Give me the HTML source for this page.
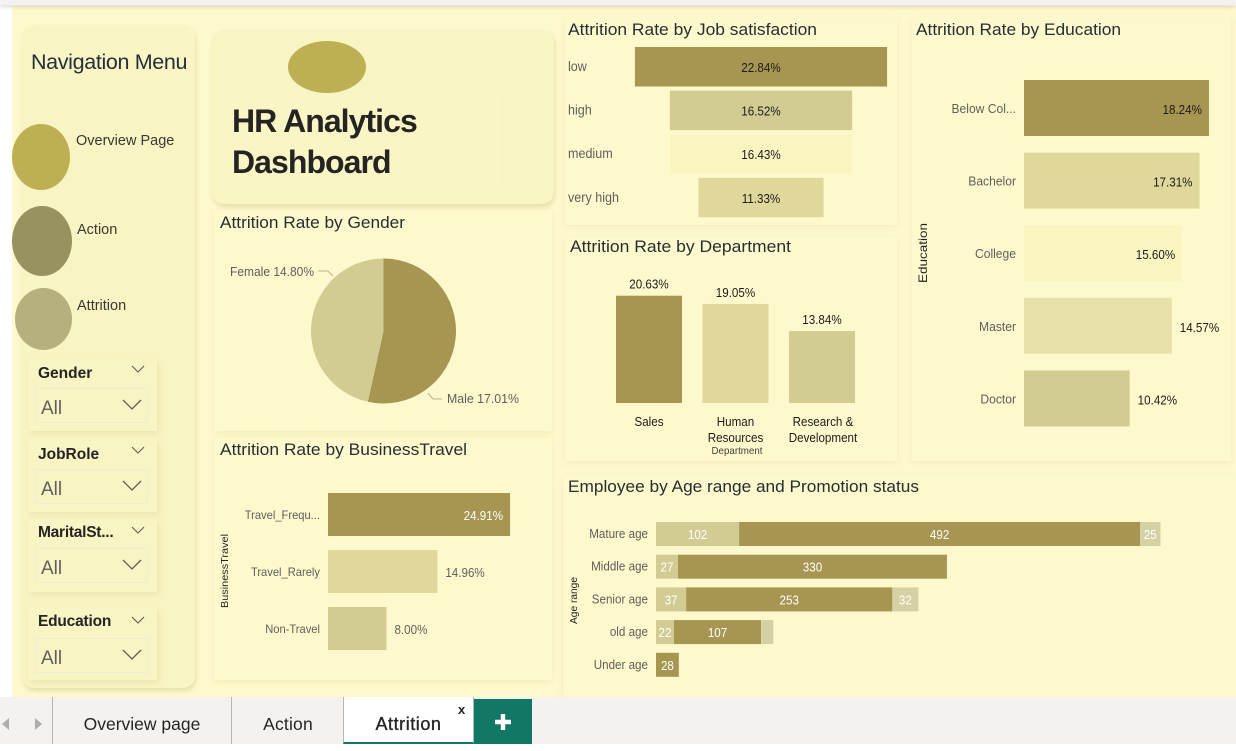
<!DOCTYPE html>
<html lang="en">
<head>
<meta charset="utf-8">
<title>HR Analytics Dashboard - Attrition</title>
<style>
html,body{margin:0;padding:0;width:1236px;height:744px;overflow:hidden;background:#fff;font-family:"Liberation Sans",sans-serif;color:#252423}
.abs{position:absolute}
#top-bar{left:0;top:0;width:1236px;height:5px;background:#f3f2f1;box-shadow:0 2px 4px rgba(0,0,0,.14);z-index:3}
#canvas{left:12px;top:6px;width:1224px;height:691px;background:#fef9cd}
.panel{position:absolute;background:#fef9cd;box-shadow:0 2px 7px rgba(200,190,120,.22)}
.soft{background:#f9f4c3;border-radius:12px;box-shadow:1px 3px 5px rgba(180,170,100,.32)}
.slicer{position:absolute;left:28px;width:129px;background:#f9f4c3;box-shadow:2px 3px 6px rgba(200,190,120,.25)}
.slicer-title{position:absolute;left:10px;top:5px;font-size:15.5px;font-weight:bold;color:#252423;white-space:nowrap}
.slicer-box{position:absolute;left:7px;width:111px;height:33px;border:1px solid #efecd6;background:#f9f4c3;font-size:19px;color:#605e5c}
.slicer-box span{position:absolute;left:5px;top:10px;line-height:20px}
.chev{position:absolute}
.nav-label{position:absolute;font-size:14.5px;color:#3a3830;white-space:nowrap}
#tabs{left:0;top:697px;width:1236px;height:47px;background:#f3f2f1;z-index:3}
.tab{position:absolute;top:0;height:47px;border-left:1px solid #b8b6b4;font-size:17.5px;color:#252423;line-height:54px;text-align:center;box-sizing:border-box}
#charts{position:absolute;left:0;top:0;width:1236px;height:744px;z-index:2;pointer-events:none}
</style>
</head>
<body>
<div class="abs" id="top-bar"></div>
<div class="abs" id="canvas"></div>

<div class="panel soft" style="left:22px;top:25px;width:173px;height:663px"></div>
<div class="abs" style="left:31px;top:50px;font-size:21.5px;letter-spacing:-.35px;color:#252f3a;white-space:nowrap">Navigation Menu</div>

<div class="abs" style="left:12px;top:124px;width:58px;height:66px;border-radius:50%;background:#bcb053"></div>
<div class="nav-label" style="left:76px;top:133px">Overview Page</div>
<div class="abs" style="left:12px;top:206px;width:60px;height:70px;border-radius:50%;background:#989261"></div>
<div class="nav-label" style="left:77px;top:222px">Action</div>
<div class="abs" style="left:15px;top:288px;width:57px;height:62px;border-radius:50%;background:#b6b07f"></div>
<div class="nav-label" style="left:77px;top:298px">Attrition</div>

<div class="slicer" style="top:358px;height:73px">
  <div class="slicer-title" style="top:7px">Gender</div>
  <svg class="chev" style="left:103px;top:7px" width="14" height="9"><path d="M1 1L7 7L13 1" fill="none" stroke="#5f5d50" stroke-width="1.1"/></svg>
  <div class="slicer-box" style="top:30px"><span>All</span><svg class="chev" style="left:86px;top:10px" width="20" height="12"><path d="M1 1L10 10L19 1" fill="none" stroke="#5f5d50" stroke-width="1.3"/></svg></div>
</div>
<div class="slicer" style="top:439px;height:73px">
  <div class="slicer-title" style="top:7px">JobRole</div>
  <svg class="chev" style="left:103px;top:7px" width="14" height="9"><path d="M1 1L7 7L13 1" fill="none" stroke="#5f5d50" stroke-width="1.1"/></svg>
  <div class="slicer-box" style="top:30px"><span>All</span><svg class="chev" style="left:86px;top:10px" width="20" height="12"><path d="M1 1L10 10L19 1" fill="none" stroke="#5f5d50" stroke-width="1.3"/></svg></div>
</div>
<div class="slicer" style="top:519px;height:73px">
  <div class="slicer-title" style="top:5px;letter-spacing:-.25px">MaritalSt...</div>
  <svg class="chev" style="left:103px;top:7px" width="14" height="9"><path d="M1 1L7 7L13 1" fill="none" stroke="#5f5d50" stroke-width="1.1"/></svg>
  <div class="slicer-box" style="top:29px"><span>All</span><svg class="chev" style="left:86px;top:10px" width="20" height="12"><path d="M1 1L10 10L19 1" fill="none" stroke="#5f5d50" stroke-width="1.3"/></svg></div>
</div>
<div class="slicer" style="top:607px;height:73px">
  <div class="slicer-title" style="top:6px;letter-spacing:-.2px">Education</div>
  <svg class="chev" style="left:103px;top:9px" width="14" height="9"><path d="M1 1L7 7L13 1" fill="none" stroke="#5f5d50" stroke-width="1.1"/></svg>
  <div class="slicer-box" style="top:31px"><span>All</span><svg class="chev" style="left:86px;top:10px" width="20" height="12"><path d="M1 1L10 10L19 1" fill="none" stroke="#5f5d50" stroke-width="1.3"/></svg></div>
</div>

<div class="panel soft" style="left:212px;top:30px;width:342px;height:174px"></div>
<div class="abs" style="left:225px;top:95px;width:275px;height:95px;background:#faf5c5"></div>
<div class="abs" style="left:288px;top:41px;width:78px;height:52px;border-radius:50%;background:#bcb053"></div>
<div class="abs" style="left:232px;top:101px;font-size:32px;line-height:41px;letter-spacing:-.95px;font-weight:bold;color:#252423">HR Analytics<br>Dashboard</div>

<div class="panel" style="left:214px;top:210px;width:338px;height:221px"></div>
<div class="panel" style="left:214px;top:438px;width:338px;height:242px"></div>
<div class="panel" style="left:565px;top:17px;width:332px;height:208px"></div>
<div class="panel" style="left:565px;top:237px;width:332px;height:224px"></div>
<div class="panel" style="left:912px;top:17px;width:319px;height:444px"></div>
<div class="panel" style="left:563px;top:476px;width:673px;height:221px"></div>

<svg id="charts" xmlns="http://www.w3.org/2000/svg" viewBox="0 0 1236 744"></svg>

<div class="abs" id="tabs">
  <svg class="abs" style="left:0;top:20px" width="44" height="14"><path d="M9 1L2 7L9 13Z" fill="#b0aeac"/><path d="M35 1L42 7L35 13Z" fill="#b0aeac"/></svg>
  <div class="tab" style="left:52px;width:179px">Overview page</div>
  <div class="tab" style="left:231px;width:113px;letter-spacing:.2px">Action</div>
  <div class="tab" style="left:343px;width:131px;background:#fff;border-right:1px solid #b8b6b4;border-bottom:2px solid #117865;font-size:18px;letter-spacing:.55px;-webkit-text-stroke:.35px #252423">Attrition</div>
  <div class="abs" style="left:458px;top:5px;font-size:13px;font-weight:bold;color:#252423">x</div>
  <div class="abs" style="left:474px;top:2px;width:58px;height:45px;background:#117865">
    <svg class="abs" style="left:20px;top:14px" width="18" height="18"><path d="M9 1V17M1 9H17" stroke="#fff" stroke-width="4.4"/></svg>
  </div>
</div>

<script>
var C_DARK = '#a79552', C_TAN = '#e0d79b', C_SAGE = '#d2cc93', C_PALE = '#faf4c1', C_LIGHT = '#e7e1a9', C_GREY = '#d6d1a5';

var genderCategories = ['Male', 'Female'];
var genderValues = [17.01, 14.80];

var travelCategories = ['Travel_Frequ...', 'Travel_Rarely', 'Non-Travel'];
var travelValues = [24.91, 14.96, 8.00];

var jobCategories = ['low', 'high', 'medium', 'very high'];
var jobValues = [22.84, 16.52, 16.43, 11.33];

var departmentCategories = [['Sales'], ['Human', 'Resources'], ['Research &', 'Development']];
var departmentValues = [20.63, 19.05, 13.84];

var educationCategories = ['Below Col...', 'Bachelor', 'College', 'Master', 'Doctor'];
var educationValues = [18.24, 17.31, 15.60, 14.57, 10.42];

var ageCategories = ['Mature age', 'Middle age', 'Senior age', 'old age', 'Under age'];
var ageFirst = [102, 27, 37, 22, 0];
var ageSecond = [492, 330, 253, 107, 28];
var ageThird = [25, 0, 32, 15, 0];

var svg = document.getElementById('charts');
var NS = 'http://www.w3.org/2000/svg';

function pct(v) { return v.toFixed(2) + '%'; }

function drawText(str, x, y, size, fill, anchor, name, extra) {
  var el = document.createElementNS(NS, 'text');
  el.setAttribute('x', x);
  el.setAttribute('y', y);
  el.setAttribute('font-size', size);
  el.setAttribute('fill', fill);
  el.setAttribute('text-anchor', anchor || 'start');
  el.setAttribute('font-family', '"Liberation Sans", sans-serif');
  if (extra && extra.rotate) el.setAttribute('transform', 'rotate(-90 ' + x + ' ' + y + ')');
  
  
  el.textContent = str;
  svg.appendChild(el);
  var target = extra && extra.width ? extra.width : el.getComputedTextLength() * 0.93;
  el.setAttribute('textLength', target);
  el.setAttribute('lengthAdjust', 'spacingAndGlyphs');
  return el;
}

function drawBar(x, y, w, h, fill, name) {
  var el = document.createElementNS(NS, 'rect');
  el.setAttribute('x', x);
  el.setAttribute('y', y);
  el.setAttribute('width', Math.max(w, 0));
  el.setAttribute('height', h);
  el.setAttribute('fill', fill);
  
  
  svg.appendChild(el);
  return el;
}

function drawLine(d, name) {
  var el = document.createElementNS(NS, 'path');
  el.setAttribute('d', d);
  el.setAttribute('fill', 'none');
  el.setAttribute('stroke', '#b9b48c');
  el.setAttribute('stroke-width', '1');
  
  
  svg.appendChild(el);
}

function title(str, x, y, w, name) {
  drawText(str, x, y, 17, '#252f33', 'start', name, { width: w });
}

/* Gender pie */
title('Attrition Rate by Gender', 220, 228, 185, 'gender-chart-title');
var pieCx = 383.5, pieCy = 331, pieR = 72.5;
var pieColors = [C_DARK, C_SAGE];
function pieAngle(cum, total) { return cum / total * Math.PI * 2; }
var genderTotal = genderValues.reduce(function (a, b) { return a + b; }, 0);
var genderCum = 0;
genderValues.forEach(function (v, i) {
  var a0 = pieAngle(genderCum, genderTotal);
  genderCum += v;
  var a1 = pieAngle(genderCum, genderTotal);
  var large = (a1 - a0) > Math.PI ? 1 : 0;
  var el = document.createElementNS(NS, 'path');
  el.setAttribute('d', 'M' + pieCx + ' ' + pieCy +
    'L' + (pieCx + pieR * Math.sin(a0)) + ' ' + (pieCy - pieR * Math.cos(a0)) +
    'A' + pieR + ' ' + pieR + ' 0 ' + large + ' 1 ' + (pieCx + pieR * Math.sin(a1)) + ' ' + (pieCy - pieR * Math.cos(a1)) + 'Z');
  el.setAttribute('fill', pieColors[i]);
  
  
  svg.appendChild(el);
});
drawLine('M318 271H328L333 276', 'female-leader-line');
drawLine('M428 393L433 399H442', 'male-leader-line');
drawText(genderCategories[1] + ' ' + pct(genderValues[1]), 230, 276, 13, '#605e5c', 'start', 'female-data-label', { width: 84 });
drawText(genderCategories[0] + ' ' + pct(genderValues[0]), 447, 403, 13, '#605e5c', 'start', 'male-data-label', { width: 72 });

/* Business travel */
title('Attrition Rate by BusinessTravel', 220, 455, 247, 'business-travel-chart-title');
var travelX0 = 328, travelScale = 7.31;
function travelX(v) { return v * travelScale; }
travelCategories.forEach(function (c, i) {
  var y = 493 + i * 57;
  var w = travelX(travelValues[i]);
  drawBar(travelX0, y, w, 43, [C_DARK, C_TAN, C_SAGE][i], 'travel-bar-' + i);
  drawText(c, 320, y + 26, 12, '#605e5c', 'end', 'travel-label-' + i);
  if (i === 0) drawText(pct(travelValues[i]), travelX0 + w - 7, y + 27, 12.5, '#fff', 'end', 'travel-value-' + i);
  else drawText(pct(travelValues[i]), travelX0 + w + 8, y + 27, 12.5, '#605e5c', 'start', 'travel-value-' + i);
});
drawText('BusinessTravel', 228, 608, 10, '#252423', 'start', 'travel-y-axis-title', { rotate: true, width: 74 });

/* Job satisfaction funnel */
title('Attrition Rate by Job satisfaction', 568, 35, 249, 'job-satisfaction-chart-title');
var jobCx = 761, jobScale = 11.04;
function jobW(v) { return v * jobScale; }
jobCategories.forEach(function (c, i) {
  var y = 47 + i * 43.6;
  var w = jobW(jobValues[i]);
  drawBar(jobCx - w / 2, y, w, 39.5, [C_DARK, C_SAGE, C_PALE, C_TAN][i], 'job-bar-' + c.replace(' ', '-'));
  drawText(c, 568, y + 24, 13.5, '#605e5c', 'start', 'job-label-' + i);
  drawText(pct(jobValues[i]), jobCx, y + 25, 12.5, '#1c1b1a', 'middle', 'job-value-' + i);
});

/* Department columns */
title('Attrition Rate by Department', 570, 252, 221, 'department-chart-title');
var deptBase = 403, deptScale = 5.2;
function deptH(v) { return v * deptScale; }
departmentCategories.forEach(function (lines, i) {
  var h = deptH(departmentValues[i]);
  var x = 616 + i * 86.5;
  drawBar(x, deptBase - h, 66, h, [C_DARK, C_TAN, C_SAGE][i], 'department-bar-' + i);
  drawText(pct(departmentValues[i]), x + 33, deptBase - h - 7, 12.5, '#1c1b1a', 'middle', 'department-value-' + i);
  lines.forEach(function (ln, j) {
    drawText(ln, x + 33 + (i === 2 ? 1 : 0), 426 + j * 16, 12.5, '#1c1b1a', 'middle', 'department-label-' + i + '-' + j);
  });
});
drawText('Department', 737, 454, 10.5, '#44423c', 'middle', 'department-x-axis-title');

/* Education */
title('Attrition Rate by Education', 916, 35, 205, 'education-chart-title');
var eduX0 = 1024, eduScale = 10.14;
function eduW(v) { return v * eduScale; }
educationCategories.forEach(function (c, i) {
  var y = 80 + i * 72.6;
  var w = eduW(educationValues[i]);
  drawBar(eduX0, y, w, 56, [C_DARK, C_TAN, C_PALE, C_LIGHT, C_SAGE][i], 'education-bar-' + i);
  drawText(c, 1016, y + 33, 13, '#605e5c', 'end', 'education-label-' + i);
  if (i < 3) drawText(pct(educationValues[i]), eduX0 + w - 7, y + 34, 12.5, '#1c1b1a', 'end', 'education-value-' + i);
  else drawText(pct(educationValues[i]), eduX0 + w + 8, y + 34, 12.5, '#1c1b1a', 'start', 'education-value-' + i);
});
drawText('Education', 927, 283, 12, '#252423', 'start', 'education-y-axis-title', { rotate: true, width: 60 });

/* Age range stacked */
title('Employee by Age range and Promotion status', 568, 492, 351, 'age-promotion-chart-title');
var ageX0 = 656, ageScale = 0.815;
function ageX(v) { return ageX0 + v * ageScale; }
ageCategories.forEach(function (c, i) {
  var y = 522 + i * 32.7;
  var a = ageFirst[i], b = ageSecond[i], d = ageThird[i];
  drawBar(ageX(0), y, ageX(a) - ageX(0), 24, C_SAGE, 'age-bar-first-' + i);
  drawBar(ageX(a), y, ageX(a + b) - ageX(a), 24, C_DARK, 'age-bar-second-' + i);
  drawBar(ageX(a + b), y, ageX(a + b + d) - ageX(a + b), 24, C_GREY, 'age-bar-third-' + i);
  drawText(c, 648, y + 16, 12.5, '#605e5c', 'end', 'age-label-' + i);
  if (a > 0) drawText(String(a), (ageX(0) + ageX(a)) / 2, y + 17, 12.5, '#fff', 'middle', 'age-value-first-' + i);
  drawText(String(b), (ageX(a) + ageX(a + b)) / 2, y + 17, 12.5, '#fff', 'middle', 'age-value-second-' + i);
  if (d > 15) drawText(String(d), (ageX(a + b) + ageX(a + b + d)) / 2, y + 17, 12.5, '#fff', 'middle', 'age-value-third-' + i);
});
drawText('Age range', 577, 624, 10, '#252423', 'start', 'age-y-axis-title', { rotate: true, width: 47 });
</script>
</body>
</html>
